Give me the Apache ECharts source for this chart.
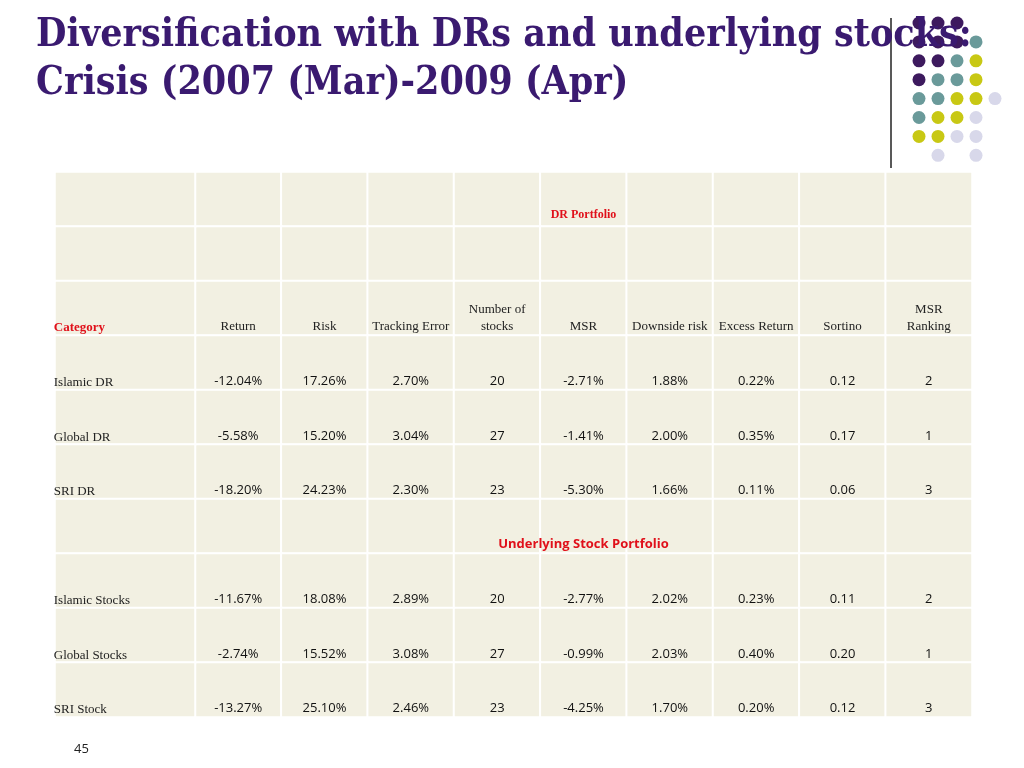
<!DOCTYPE html>
<html><head><meta charset="utf-8">
<script src="https://cdn.jsdelivr.net/npm/echarts@6/dist/echarts.min.js"></script>
<style>html,body{margin:0;background:#fff}#c{width:1024px;height:768px}</style>
</head><body><div id="c"></div>
<script>
// table content
const columns = ['Return','Risk','Tracking Error','Number of\nstocks','MSR','Downside risk','Excess Return','Sortino','MSR\nRanking'];
// rows top to bottom; sec rows are section headers
const rowNames = ['sec1','blank','Category','Islamic DR','Global DR','SRI DR','sec2','Islamic Stocks','Global Stocks','SRI Stock'];
const islamicDR = ['-12.04%','17.26%','2.70%','20','-2.71%','1.88%','0.22%','0.12','2'];
const globalDR = ['-5.58%','15.20%','3.04%','27','-1.41%','2.00%','0.35%','0.17','1'];
const sriDR = ['-18.20%','24.23%','2.30%','23','-5.30%','1.66%','0.11%','0.06','3'];
const islamicStocks = ['-11.67%','18.08%','2.89%','20','-2.77%','2.02%','0.23%','0.11','2'];
const globalStocks = ['-2.74%','15.52%','3.08%','27','-0.99%','2.03%','0.40%','0.20','1'];
const sriStock = ['-13.27%','25.10%','2.46%','23','-4.25%','1.70%','0.20%','0.12','3'];
const sectionTitles = {sec1: 'DR Portfolio', sec2: 'Underlying Stock Portfolio'};

const rowValues = {'Islamic DR': islamicDR, 'Global DR': globalDR, 'SRI DR': sriDR,
  'Islamic Stocks': islamicStocks, 'Global Stocks': globalStocks, 'SRI Stock': sriStock};

const yCats = rowNames.map((_, i) => String(i));
const cellData = [];
const nameData = [];
rowNames.forEach((r, y) => {
  const vals = rowValues[r];
  columns.forEach((c, x) => {
    let text = '', style = {};
    if (vals) { text = vals[x]; style = {fontFamily: 'Open Sans', fontSize: 13, color: '#111', offset: [0, 19]}; }
    else if (r === 'Category') { text = c; style = {fontFamily: 'Liberation Serif', fontSize: 13, color: '#222', lineHeight: 17, verticalAlign: 'bottom', offset: [0, 27]}; }
    else if (sectionTitles[r] && x === 4) {
      text = sectionTitles[r];
      style = r === 'sec1'
        ? {fontFamily: 'Liberation Serif', fontWeight: 'bold', fontSize: 12, color: '#e0101a', offset: [0, 16]}
        : {fontFamily: 'Open Sans', fontWeight: 'bold', fontSize: 13, color: '#e0101a', offset: [0, 18]};
    }
    cellData.push({value: [x, y, 0], label: Object.assign({show: true, formatter: text}, style)});
  });
  let nm = (vals || r === 'Category') ? r : '';
  nameData.push({value: [0, y, 0], label: {show: true, formatter: nm, position: 'insideLeft', distance: 0,
    fontFamily: 'Liberation Serif', fontSize: 13, color: r === 'Category' ? '#e0101a' : '#222',
    fontWeight: r === 'Category' ? 'bold' : 'normal', offset: [0, r === 'Category' ? 19 : 20]}});
});

const chart = echarts.init(document.getElementById('c'));
const cellStyle = {color: '#f2f0e2', borderColor: '#fff', borderWidth: 2};

// decorative dot pattern (top right)
const dotColors = {P: '#3d1a5e', T: '#6a9a9a', Y: '#c8c814', L: '#d8d8ea'};
const dotRows = ['PPP ', 'PPPT', 'PPTY', 'PTTY', 'TTYYL', 'TYYL', 'YYLL', ' L L'];
const graphics = [];
dotRows.forEach((row, j) => row.split('').forEach((ch, i) => {
  if (ch === ' ') return;
  graphics.push({type: 'circle', shape: {cx: 919 + i * 19, cy: 23 + j * 18.9, r: 6.5}, style: {fill: dotColors[ch]}});
}));
graphics.push({type: 'line', shape: {x1: 891, y1: 18, x2: 891, y2: 168}, style: {stroke: '#222', lineWidth: 1.5}});
graphics.push({type: 'text', left: 36, top: 12, style: {text: 'Diversification with DRs and underlying stocks:\nCrisis (2007 (Mar)-2009 (Apr)',
  font: 'bold 39px "DejaVu Serif Condensed", "Liberation Serif"', fill: '#3a1a70', lineHeight: 48}});
graphics.push({type: 'text', left: 74, top: 743, style: {text: '45', font: '13px "Open Sans"', fill: '#222'}});

chart.setOption({
  animation: false,
  graphic: graphics,
  grid: [
    {left: 195, right: 52, top: 172, bottom: 51},
    {left: 55, width: 140, top: 172, bottom: 51}
  ],
  xAxis: [
    {type: 'category', data: columns, gridIndex: 0, show: false},
    {type: 'category', data: ['name'], gridIndex: 1, show: false}
  ],
  yAxis: [
    {type: 'category', data: yCats, inverse: true, gridIndex: 0, show: false},
    {type: 'category', data: yCats, inverse: true, gridIndex: 1, show: false}
  ],
  visualMap: {show: false, min: 0, max: 1, dimension: 2, inRange: {color: ['#f2f0e2', '#f2f0e2']}},
  series: [
    {type: 'heatmap', xAxisIndex: 0, yAxisIndex: 0, data: cellData, itemStyle: cellStyle, emphasis: {disabled: true}},
    {type: 'heatmap', xAxisIndex: 1, yAxisIndex: 1, data: nameData, itemStyle: cellStyle, emphasis: {disabled: true}}
  ]
});
</script></body></html>
